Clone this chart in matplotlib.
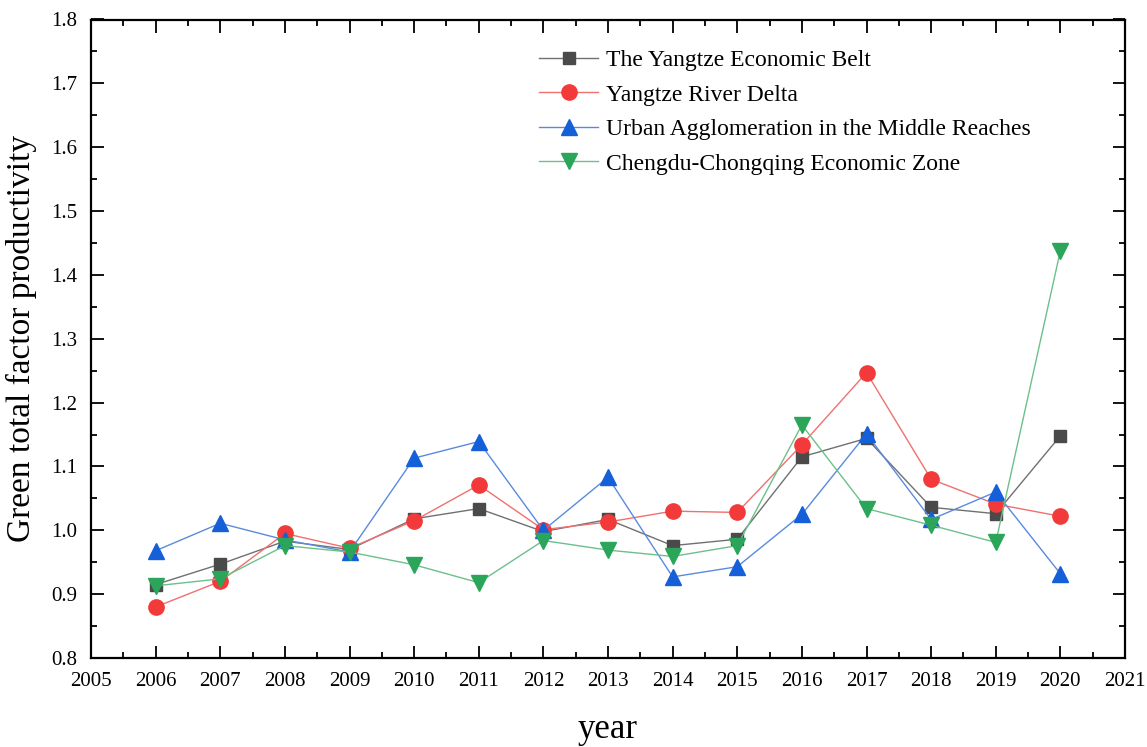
import numpy as np
import matplotlib
matplotlib.use("Agg")
import matplotlib.pyplot as plt
from matplotlib.ticker import MultipleLocator

plt.rcParams.update({
    "font.family": ["Liberation Serif", "DejaVu Serif"],
    "mathtext.fontset": "stix",
})

years = list(range(2006, 2021))

belt = [0.915, 0.947, 0.983, 0.970, 1.018, 1.034, 0.998, 1.017, 0.976,
        0.986, 1.115, 1.144, 1.036, 1.026, 1.148]
delta = [0.880, 0.920, 0.995, 0.972, 1.015, 1.071, 1.001, 1.013, 1.030,
         1.028, 1.134, 1.247, 1.080, 1.041, 1.022]
middle = [0.968, 1.011, 0.985, 0.966, 1.113, 1.139, 1.000, 1.083, 0.927,
          0.943, 1.025, 1.151, 1.017, 1.060, 0.932]
chengyu = [0.913, 0.924, 0.976, 0.966, 0.946, 0.918, 0.984, 0.969, 0.959,
           0.976, 1.165, 1.034, 1.008, 0.981, 1.438]

labels = ["The Yangtze Economic Belt",
          "Yangtze River Delta",
          "Urban Agglomeration in the Middle Reaches",
          "Chengdu-Chongqing Economic Zone"]

series = [belt, delta, middle, chengyu]
marker_colors = ["#4a4a4a", "#f23a3a", "#1560d8", "#2aa55a"]
line_colors = ["#707070", "#f07070", "#5a8ae0", "#6cc08a"]
markers = ["s", "o", "^", "v"]
msizes = [9, 11, 11.5, 11.5]

fig = plt.figure(figsize=(11.47, 7.47), dpi=100)
ax = fig.add_axes([91 / 1147, 1 - 658 / 747, (1125 - 91) / 1147, (658 - 19.5) / 747])

for vals, lab, mc, lc, mk, ms in zip(series, labels, marker_colors,
                                     line_colors, markers, msizes):
    ax.plot(years, vals, color=lc, linewidth=1.0, marker=mk, markersize=ms,
            markerfacecolor=mc, markeredgecolor=mc, label=lab)

ax.set_xlim(2005, 2021)
ax.set_ylim(0.8, 1.8)
ax.xaxis.set_major_locator(MultipleLocator(1))
ax.xaxis.set_minor_locator(MultipleLocator(0.5))
ax.yaxis.set_major_locator(MultipleLocator(0.1))
ax.yaxis.set_minor_locator(MultipleLocator(0.05))
ax.yaxis.set_major_formatter(plt.FuncFormatter(lambda v, p: f"{v:.1f}"))

ax.tick_params(which="both", direction="in", top=True, right=True, width=1.3)
ax.tick_params(which="major", length=9, pad=10, labelsize=15)
ax.tick_params(which="minor", length=4.5)
for s in ax.spines.values():
    s.set_linewidth(1.6)

ax.set_xlabel("year", fontsize=25, labelpad=16)
ax.set_ylabel("Green total factor productivity", fontsize=24, labelpad=10)

ax.legend(loc="upper left", bbox_to_anchor=(0.42, 0.975), frameon=False,
          fontsize=17, handlelength=2.5, handletextpad=0.3,
          labelspacing=0.55, borderaxespad=0.2)

fig.savefig("out.png", dpi=100)
